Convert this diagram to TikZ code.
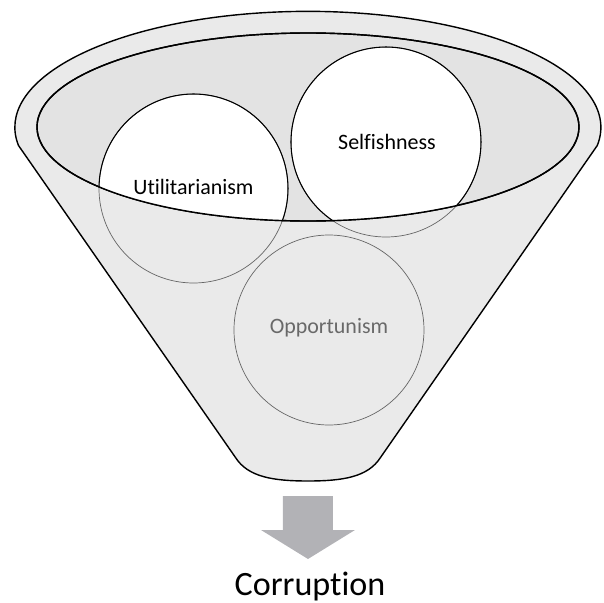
\documentclass[tikz,border=0pt]{standalone}
\usepackage{fontspec}
\setmainfont{Carlito}[Ligatures=NoCommon]
\definecolor{funnelgray}{RGB}{234,234,234}
\definecolor{bowlgray}{RGB}{227,227,227}
\definecolor{arrowgray}{RGB}{178,178,182}
\definecolor{termgray}{RGB}{105,105,105}
\tikzset{
	rim/.style={thick, color=black},
	ring/.style={semithick, color=black},
	faintring/.style={thin, color=black!60},
	termtext/.style={font=\fontsize{12.5}{15}\selectfont}
}
\begin{document}
\begin{tikzpicture}
		\useasboundingbox (-6.16, -9.52) rectangle (5.92, 2.54);
		% funnel body
		\filldraw [rim, fill=funnelgray]
		(-5.79, -0.37) arc [start angle=189, end angle=-9, x radius=5.86, y radius=2.32] --
		(1.45, -6.61) .. controls (1.2, -7.0) and (0.7, -7.08) .. (0.0, -7.08)
		.. controls (-0.7, -7.08) and (-1.2, -7.0) .. (-1.45, -6.61) --
		cycle;
		% inner rim
		\filldraw [rim, fill=bowlgray] (0.0, 0.0) ellipse [x radius=5.42, y radius=1.88];
		\begin{scope}
			\clip (0.0, 0.0) ellipse [x radius=5.42, y radius=1.88];
			\fill [white] (-2.29, -1.23) circle [radius=1.89];
			\fill [white] (1.56, -0.30) circle [radius=1.90];
		\end{scope}
		% circles, dark inside the rim
		\draw [faintring] (-2.29, -1.23) circle [radius=1.89];
		\draw [faintring] (1.56, -0.30) circle [radius=1.90];
		\draw [faintring] (0.42, -4.06) circle [radius=1.90];
		\begin{scope}
			\clip (0.0, 0.0) ellipse [x radius=5.42, y radius=1.88];
			\draw [ring] (-2.29, -1.23) circle [radius=1.89];
			\draw [ring] (1.56, -0.30) circle [radius=1.90];
		\end{scope}
		\draw [rim] (0.0, 0.0) ellipse [x radius=5.42, y radius=1.88];
		\node [termtext] (util) at (-2.29, -1.20) {Utilitarianism};
		\node [termtext] (self) at (1.58, -0.30) {Selfishness};
		\node [termtext, text=termgray] (opport) at (0.42, -4.02) {Opportunism};
		% arrow
		\fill [arrowgray]
		(-0.50, -7.38) --
		(0.50, -7.38) --
		(0.50, -8.06) --
		(0.94, -8.06) --
		(0.0, -8.64) --
		(-0.94, -8.06) --
		(-0.50, -8.06) --
		cycle;
		\node [anchor=base, font=\fontsize{19.4}{23}\selectfont] (corruption) at (0.04, -9.36) {Corruption};
	\end{tikzpicture}
\end{document}
